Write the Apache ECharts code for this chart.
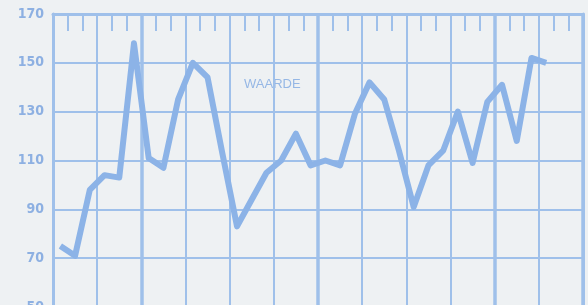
<!DOCTYPE html>
<html>
<head>
<meta charset="utf-8">
<script src="https://cdn.jsdelivr.net/npm/echarts@6/dist/echarts.min.js"></script>
<style>
  html, body { margin: 0; padding: 0; background: #eef1f3; }
  #chart { width: 588px; height: 305px; }
</style>
</head>
<body>
<div id="chart"></div>
<script>
// 36 maanden, begint in juli (dikke lijnen = jaargrens)
const months = [
  "jul1", "aug1", "sep1", "okt1", "nov1", "dec1",
  "jan2", "feb2", "mrt2", "apr2", "mei2", "jun2", "jul2", "aug2", "sep2", "okt2", "nov2", "dec2",
  "jan3", "feb3", "mrt3", "apr3", "mei3", "jun3", "jul3", "aug3", "sep3", "okt3", "nov3", "dec3",
  "jan4", "feb4", "mrt4", "apr4", "mei4", "jun4"
];
const waarde = [
  75, 71, 98, 104, 103, 158, 111, 107, 135, 150, 144, 113,
  83, 94, 105, 110, 121, 108, 110, 108, 129, 142, 135, 114,
  91, 108, 114, 130, 109, 134, 141, 118, 152, 150
];
const yTicks = [50, 70, 90, 110, 130, 150, 170];

const gridColor = "#9fc0ea";
const lineColor = "#8cb3e7";
const labelColor = "#8db0e2";

const chart = echarts.init(document.getElementById("chart"));
chart.setOption({
  backgroundColor: "#eef1f3",
  animation: false,
  grid: { left: 53, top: 14, width: 530, height: 293, outerBoundsMode: "none" },
  graphic: [
    {
      type: "text",
      left: 244,
      top: 78,
      style: {
        text: "WAARDE",
        fill: "#95b7e5",
        font: "13px 'Liberation Sans', sans-serif"
      }
    }
  ],
  xAxis: [
    {
      type: "category",
      position: "top",
      data: months,
      boundaryGap: true,
      axisLine: { show: true, lineStyle: { color: gridColor, width: 3 } },
      axisTick: {
        show: true,
        inside: true,
        length: 17,
        interval: 0,
        lineStyle: { color: gridColor, width: 2 }
      },
      axisLabel: { show: false },
      // kwartaallijnen
      splitLine: {
        show: true,
        interval: (idx) => idx % 3 === 0,
        lineStyle: { color: gridColor, width: 2 }
      }
    },
    {
      type: "category",
      position: "bottom",
      data: months,
      boundaryGap: true,
      axisLine: { show: false },
      axisTick: { show: false },
      axisLabel: { show: false },
      // jaarlijnen
      splitLine: {
        show: true,
        interval: (idx) => idx % 12 === 6,
        lineStyle: { color: gridColor, width: 3.5 }
      }
    }
  ],
  yAxis: [
    {
      type: "value",
      min: yTicks[0],
      max: yTicks[yTicks.length - 1],
      interval: 20,
      axisLine: { show: true, lineStyle: { color: gridColor, width: 3 } },
      axisTick: { show: false },
      axisLabel: {
        color: labelColor,
        fontSize: 14,
        fontWeight: "bold",
        fontFamily: "'Liberation Sans Narrow', 'DejaVu Sans Condensed', sans-serif",
        margin: 9
      },
      splitLine: { show: true, lineStyle: { color: gridColor, width: 2 } }
    },
    {
      type: "value",
      position: "right",
      min: yTicks[0],
      max: yTicks[yTicks.length - 1],
      interval: 20,
      axisLine: { show: true, lineStyle: { color: gridColor, width: 3 } },
      axisTick: { show: false },
      axisLabel: { show: false },
      splitLine: { show: false }
    }
  ],
  series: [
    {
      name: "WAARDE",
      type: "line",
      data: waarde,
      xAxisIndex: 0,
      yAxisIndex: 0,
      symbol: "none",
      smooth: false,
      lineStyle: { color: lineColor, width: 6, join: "round" }
    }
  ]
});
</script>
</body>
</html>
